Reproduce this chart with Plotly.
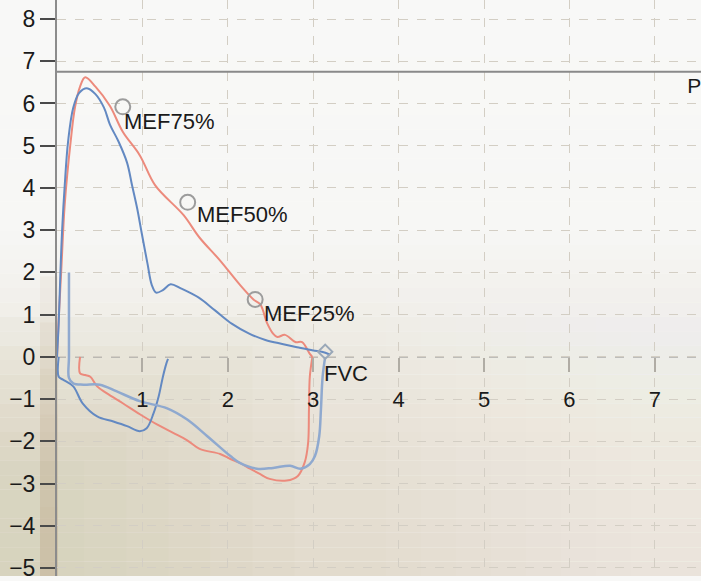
import plotly.graph_objects as go

# ---------------- data (volume L, flow L/s) ----------------
blue_exp_vol = [0.0, 0.02, 0.04, 0.06, 0.09, 0.13, 0.19, 0.26, 0.35, 0.45, 0.55, 0.62, 0.72, 0.82,
                0.88, 0.94, 0.99, 1.06, 1.11, 1.16, 1.24, 1.33, 1.45, 1.66, 1.85, 2.05, 2.25, 2.44,
                2.65, 2.83, 3.0, 3.1, 3.2]
blue_exp_flow = [0.0, 0.8, 2.0, 3.0, 4.05, 5.1, 5.9, 6.25, 6.36, 6.22, 5.9, 5.5, 5.1, 4.6,
                 4.05, 3.5, 2.95, 2.2, 1.7, 1.52, 1.58, 1.72, 1.62, 1.4, 1.1, 0.78, 0.55, 0.4,
                 0.3, 0.22, 0.15, 0.12, 0.05]

blue_insp1_vol = [0.02, 0.02, 0.07, 0.19, 0.3, 0.47, 0.66, 0.82, 0.97, 1.05, 1.13, 1.19, 1.24, 1.28, 1.3]
blue_insp1_flow = [0.0, -0.47, -0.54, -0.7, -1.1, -1.41, -1.53, -1.64, -1.76, -1.69, -1.34, -0.94,
                   -0.47, -0.16, -0.05]

blue_insp2_vol = [3.14, 3.11, 3.09, 3.07, 3.02, 2.96, 2.85, 2.73, 2.53, 2.34, 2.14, 2.03, 1.76,
                  1.52, 1.29, 0.97, 0.7, 0.5, 0.31, 0.19, 0.14, 0.14, 0.14]
blue_insp2_flow = [0.0, -0.47, -1.25, -1.88, -2.35, -2.54, -2.65, -2.58, -2.63, -2.65, -2.51, -2.35,
                   -1.88, -1.48, -1.22, -1.05, -0.82, -0.66, -0.66, -0.63, -0.5, 0.0, 2.0]

red_exp_vol = [0.0, 0.02, 0.05, 0.09, 0.16, 0.21, 0.27, 0.33, 0.45, 0.62, 0.77, 0.97, 1.15, 1.48,
               1.67, 1.91, 2.14, 2.3, 2.38, 2.46, 2.53, 2.58, 2.67, 2.79, 2.87, 2.96, 2.99]
red_exp_flow = [0.0, 0.9, 2.05, 3.6, 5.1, 5.9, 6.4, 6.62, 6.4, 5.94, 5.33, 4.77, 4.06, 3.36,
                2.82, 2.28, 1.71, 1.36, 1.24, 0.8, 0.55, 0.47, 0.52, 0.35, 0.35, 0.07, 0.0]

red_insp_vol = [2.99, 2.96, 2.95, 2.94, 2.9, 2.82, 2.69, 2.49, 2.38, 2.26, 2.14, 2.03, 1.91, 1.67,
                1.52, 1.36, 1.17, 0.97, 0.77, 0.58, 0.47, 0.39, 0.33, 0.27, 0.27]
red_insp_flow = [0.0, -0.47, -1.25, -2.04, -2.5, -2.82, -2.93, -2.89, -2.78, -2.65, -2.51, -2.42,
                 -2.3, -2.18, -1.97, -1.8, -1.6, -1.36, -1.1, -0.86, -0.7, -0.47, -0.43, -0.39, 0.0]

point_labels = ["MEF75%", "MEF50%", "MEF25%", "FVC"]
point_vol = [0.77, 1.53, 2.32, 3.14]
point_flow = [5.92, 3.66, 1.36, 0.12]

pef_pred = 6.75
pef_label = "P"

x_ticks = [1, 2, 3, 4, 5, 6, 7]
y_ticks = [-5, -4, -3, -2, -1, 0, 1, 2, 3, 4, 5, 6, 7, 8]

X_RANGE = [0, 7.54]
Y_RANGE = [-5.19, 8.45]

RED = "#ec8a7c"
BLUE = "#6389c2"
LIGHT_BLUE = "#8fa9cf"
FONT = "Liberation Sans, Arial"

fig = go.Figure()

line_kw = dict(mode="lines", hoverinfo="skip", showlegend=False, line_shape="spline")
fig.add_trace(go.Scatter(x=red_exp_vol, y=red_exp_flow, line=dict(color=RED, width=2), **line_kw))
fig.add_trace(go.Scatter(x=red_insp_vol, y=red_insp_flow, line=dict(color=RED, width=2), **line_kw))
fig.add_trace(go.Scatter(x=blue_exp_vol, y=blue_exp_flow, line=dict(color=BLUE, width=2), **line_kw))
fig.add_trace(go.Scatter(x=blue_insp1_vol, y=blue_insp1_flow, line=dict(color=BLUE, width=2), **line_kw))
fig.add_trace(go.Scatter(x=blue_insp2_vol, y=blue_insp2_flow, line=dict(color=LIGHT_BLUE, width=2.5), **line_kw))

# predicted PEF line
fig.add_trace(go.Scatter(x=X_RANGE, y=[pef_pred, pef_pred], mode="lines",
                         line=dict(color="#8a8a8a", width=2), showlegend=False, hoverinfo="skip"))
fig.add_trace(go.Scatter(x=[X_RANGE[1] - 0.16], y=[pef_pred - 0.37], mode="text", text=[pef_label],
                         textposition="middle right", textfont=dict(size=21, color="#1a1a1a", family=FONT),
                         cliponaxis=False, showlegend=False, hoverinfo="skip"))

# MEF / FVC markers
fig.add_trace(go.Scatter(x=point_vol[:3], y=point_flow[:3], mode="markers",
                         marker=dict(symbol="circle-open", size=15, color="#9c9c9c", line=dict(width=2)),
                         showlegend=False, hoverinfo="skip"))
fig.add_trace(go.Scatter(x=point_vol[3:], y=point_flow[3:], mode="markers",
                         marker=dict(symbol="diamond-open", size=11, color="#9aa8b8", line=dict(width=2)),
                         showlegend=False, hoverinfo="skip"))

shifts = [(-1, -15), (7, -12), (7, -14), (-3, -22)]
for lab, vx, vy, (dx, dy) in zip(point_labels, point_vol, point_flow, shifts):
    fig.add_annotation(x=vx, y=vy, text=lab, showarrow=False, xanchor="left", yanchor="middle",
                       xshift=dx, yshift=dy, font=dict(size=22, color="#1a1a1a", family=FONT))

# reference dashed zero line
fig.add_shape(type="line", xref="x", yref="y", x0=X_RANGE[0], x1=X_RANGE[1], y0=0, y1=0,
              line=dict(color="#8d8d8d", width=1.5, dash="dash"), layer="below")

# ---------- photo-like paper shading (white at top, beige at bottom) ----------
stops = [(0.0, (248, 248, 247)), (0.40, (247, 247, 245)), (0.52, (242, 240, 235)),
         (0.62, (236, 232, 224)), (0.78, (230, 224, 212)), (1.0, (226, 219, 205))]


def shade(t):
    for (t0, c0), (t1, c1) in zip(stops[:-1], stops[1:]):
        if t0 <= t <= t1:
            f = (t - t0) / (t1 - t0)
            return "rgb(%d,%d,%d)" % tuple(round(a + (b - a) * f) for a, b in zip(c0, c1))
    return "rgb(%d,%d,%d)" % stops[-1][1]


NB = 40
for i in range(NB):
    y_top = 1 - i / NB
    y_bot = 1 - (i + 1) / NB
    fig.add_shape(type="rect", xref="paper", yref="paper", x0=0, x1=1, y0=y_bot, y1=y_top,
                  fillcolor=shade((i + 0.5) / NB), line_width=0, layer="below")
# lighter right-hand side, darker left side in lower half
for i in range(8):
    fig.add_shape(type="rect", xref="paper", yref="paper", x0=0.55 + 0.05 * i, x1=1, y0=0,
                  y1=0.5, fillcolor="#ffffff", opacity=0.05, line_width=0, layer="below")
for i in range(6):
    fig.add_shape(type="rect", xref="paper", yref="paper", x0=0, x1=0.12 + 0.06 * i, y0=0,
                  y1=0.2 + 0.05 * i, fillcolor="#cbbf9f", opacity=0.05, line_width=0, layer="below")
# shadow strip along the left axis
for i in range(6):
    fig.add_shape(type="rect", xref="paper", yref="paper", x0=40 / 701, x1=58 / 701, y0=0,
                  y1=0.12 + 0.08 * i, fillcolor="#c2b596", opacity=0.10, line_width=0, layer="below")

x0_frac = 57 / 701
zero_pos = (0 - Y_RANGE[0]) / (Y_RANGE[1] - Y_RANGE[0])

fig.update_layout(
    width=701, height=581,
    margin=dict(l=0, r=0, t=0, b=0),
    paper_bgcolor="#f8f8f7",
    plot_bgcolor="rgba(0,0,0,0)",
    font=dict(family=FONT, color="#1a1a1a"),
    xaxis=dict(domain=[x0_frac, 1], range=X_RANGE, tickvals=x_ticks, anchor="free", position=zero_pos,
               showgrid=True, gridcolor="#d3cec4", griddash="dash", gridwidth=1,
               showline=False, zeroline=False, ticks="outside", ticklen=14, tickwidth=2,
               tickcolor="#b0aca4", tickfont=dict(size=22, color="#1a1a1a"), ticklabelstandoff=9),
    yaxis=dict(domain=[0, 1], range=Y_RANGE, tickvals=y_ticks, anchor="x",
               showgrid=True, gridcolor="#d3cec4", griddash="dash", gridwidth=1,
               showline=True, linecolor="#8c8c8c", linewidth=2, zeroline=False,
               ticks="outside", ticklen=15, tickwidth=2, tickcolor="#4a4a4a",
               tickfont=dict(size=23, color="#1a1a1a"), ticklabelstandoff=0,
               ticklabeloverflow="allow"),
)

fig.write_html("out.html")
